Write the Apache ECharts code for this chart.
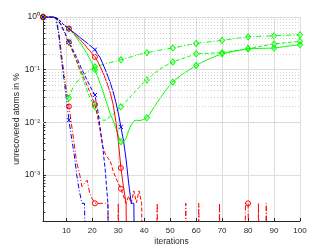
<!DOCTYPE html>
<html><head><meta charset="utf-8">
<script src="https://cdn.jsdelivr.net/npm/echarts@6/dist/echarts.min.js"></script>
<style>html,body{margin:0;padding:0;background:#fff}#c{width:332px;height:249px}</style>
</head><body><div id="c"></div>
<script>
// x ticks and y decade labels
const xTicks = [10, 20, 30, 40, 50, 60, 70, 80, 90, 100];
const yDecades = [1e-3, 1e-2, 1e-1, 1];
const yDecadeLabels = ['10\u207B\u00B3', '10\u207B\u00B2', '10\u207B\u00B9', '10\u2070'];
const markerIters = [1, 11, 21, 31, 41, 51, 60, 70, 80, 90, 100];

// values for iterations 1..100 (0 = nothing left)
const blueSolid = [1,1,1,1,1,0.97,0.9,0.8,0.71,0.65,
 0.6,0.55,0.5,0.46,0.42,0.38,0.35,0.32,0.29,0.265,
 0.24,0.2,0.17,0.13,0.1,0.075,0.055,0.038,0.025,0.015,
 0.0082,0.0045,0.002,0.0007,0.00029,0.00029,0,0,0,0,
 0,0,0,0,0,0,0,0,0,0, 0,0,0,0,0,0,0,0,0,0, 0,0,0,0,0,0,0,0,0,0,
 0,0,0,0,0,0,0,0,0,0, 0,0,0,0,0,0,0,0,0,0, 0,0,0,0,0,0,0,0,0,0];
const redSolid = [1,1,1,1,1,0.97,0.9,0.8,0.71,0.65,
 0.6,0.54,0.48,0.43,0.38,0.34,0.3,0.26,0.23,0.2,
 0.175,0.145,0.115,0.09,0.068,0.05,0.035,0.022,0.011,0.0045,
 0.00136,0.0006,0.00029,0,0,0,0,0,0,0,
 0,0,0,0,0,0,0,0,0,0, 0,0,0,0,0,0,0,0,0,0, 0,0,0,0,0,0,0,0,0,0,
 0,0,0,0,0,0,0,0,0,0, 0,0,0,0,0,0,0,0,0,0, 0,0,0,0,0,0,0,0,0,0];
const greenSolid = [1,1,1,1,1,0.97,0.9,0.8,0.71,0.65,
 0.6,0.53,0.46,0.4,0.34,0.29,0.24,0.2,0.16,0.13,
 0.1,0.075,0.055,0.04,0.028,0.02,0.014,0.011,0.008,0.0055,
 0.0043,0.0042,0.005,0.007,0.009,0.0105,0.011,0.0108,0.011,0.0115,
 0.0122,0.014,0.017,0.02,0.024,0.028,0.033,0.039,0.045,0.052,
 0.058,0.064,0.07,0.077,0.084,0.09,0.097,0.104,0.112,0.12,
 0.128,0.136,0.144,0.152,0.16,0.168,0.176,0.184,0.192,0.2,
 0.205,0.21,0.215,0.22,0.225,0.23,0.235,0.24,0.245,0.25,
 0.251,0.252,0.252,0.253,0.254,0.254,0.255,0.256,0.256,0.257,
 0.261,0.265,0.27,0.274,0.278,0.282,0.286,0.29,0.294,0.297];
const blueDashed = [1,1,1,1,1,0.95,0.85,0.7,0.55,0.43,
 0.34,0.27,0.21,0.17,0.13,0.1,0.08,0.063,0.05,0.04,
 0.033,0.018,0.008,0.0035,0.0012,0.00029,0,0,0,0,
 0,0,0,0,0,0,0,0,0,0, 0,0,0,0,0,0,0,0,0,0, 0,0,0,0,0,0,0,0,0,0,
 0,0,0,0,0,0,0,0,0,0, 0,0,0,0,0,0,0,0,0,0, 0,0,0,0,0,0,0,0,0,0, 0,0,0,0,0,0,0,0,0,0];
const redDashed = [1,1,1,1,1,0.95,0.85,0.7,0.55,0.42,
 0.33,0.25,0.19,0.145,0.11,0.085,0.065,0.05,0.038,0.029,
 0.022,0.013,0.007,0.0035,0.0025,0.0021,0.0018,0.0012,0.0009,0.0007,
 0.00055,0.0004,0.00029,0.0004,0.00029,0.0005,0.0003,0.0005,0.00029,0,
 0,0,0,0,0,0,0,0,0,0, 0,0,0,0,0,0,0,0,0,0, 0,0,0,0,0,0,0,0,0,0,
 0,0,0,0,0,0,0,0,0,0, 0,0,0,0,0,0,0,0,0,0, 0,0,0,0,0,0,0,0,0,0];
const greenDashed = [1,1,1,1,1,0.95,0.85,0.7,0.55,0.42,
 0.33,0.25,0.19,0.14,0.1,0.075,0.055,0.04,0.03,0.024,
 0.02,0.014,0.012,0.011,0.011,0.012,0.013,0.014,0.016,0.018,
 0.0197,0.022,0.025,0.028,0.032,0.036,0.041,0.046,0.052,0.058,
 0.064,0.071,0.078,0.086,0.094,0.102,0.11,0.118,0.125,0.133,
 0.14,0.146,0.152,0.158,0.164,0.17,0.177,0.184,0.192,0.2,
 0.201,0.202,0.203,0.204,0.205,0.206,0.207,0.208,0.209,0.21,
 0.214,0.218,0.222,0.226,0.23,0.234,0.238,0.242,0.246,0.25,
 0.255,0.26,0.266,0.272,0.278,0.284,0.29,0.296,0.302,0.307,
 0.311,0.315,0.319,0.323,0.327,0.331,0.335,0.338,0.341,0.344];
const blueDashDot = [1,1,1,1,1,0.95,0.5,0.17,0.07,0.028,
 0.011,0.005,0.0025,0.001,0.0005,0.00029,0.00029,0,0,0,
 0,0,0,0,0,0,0,0,0,0, 0,0,0,0,0,0,0,0,0,0, 0,0,0,0,0,0,0,0,0,0, 0,0,0,0,0,0,0,0,0,0,
 0,0,0,0,0,0,0,0,0,0, 0,0,0,0,0,0,0,0,0,0, 0,0,0,0,0,0,0,0,0,0, 0,0,0,0,0,0,0,0,0,0];
const redDashDot = [1,1,1,1,1,0.95,0.55,0.22,0.09,0.04,
 0.02,0.009,0.004,0.0017,0.0011,0.0006,0.0007,0.0008,0.00045,0.00035,
 0.00029,0.00029,0.00029,0.00029,0.00029,0.00029,0,0,0,0.00029,
 0,0,0,0,0,0,0,0,0,0, 0,0,0,0,0.00029,0,0,0,0,0,
 0,0,0,0,0,0.00029,0,0,0,0, 0.00029,0,0,0,0,0,0,0,0.00029,0,
 0,0,0,0,0,0,0,0,0.00029,0.00029, 0,0,0,0.00029,0,0,0.00029,0,0,0,
 0,0,0,0,0,0,0,0,0,0];
const greenDashDot = [1,1,1,1,1,0.9,0.5,0.2,0.08,0.04,
 0.029,0.04,0.05,0.058,0.066,0.074,0.082,0.09,0.098,0.105,
 0.113,0.117,0.121,0.125,0.129,0.133,0.137,0.141,0.145,0.15,
 0.154,0.159,0.164,0.17,0.176,0.182,0.188,0.194,0.2,0.205,
 0.21,0.215,0.22,0.225,0.23,0.235,0.24,0.245,0.25,0.254,
 0.257,0.263,0.27,0.276,0.283,0.289,0.296,0.302,0.309,0.315,
 0.319,0.323,0.328,0.332,0.337,0.341,0.346,0.35,0.355,0.36,
 0.366,0.372,0.378,0.384,0.39,0.396,0.402,0.408,0.414,0.42,
 0.422,0.424,0.426,0.428,0.43,0.432,0.434,0.436,0.438,0.44,
 0.442,0.444,0.446,0.448,0.45,0.452,0.454,0.456,0.458,0.46];

const yMinorLevels = [];
[1e-4, 1e-3, 1e-2, 1e-1].forEach(d => { for (let k = 2; k <= 9; k++) yMinorLevels.push(+(k * d).toPrecision(3)); });

const BLUE = '#0000ff', RED = '#ff0000', GREEN = '#00ff00';
const FLOOR = 1e-8;
const X_PATH = 'path://M0,0L10,10M10,0L0,10';

function mk(name, vals, color, dash, symbol, size) {
  return {
    name, type: 'line', data: vals.map((v, i) => [i + 1, v > 0 ? v : FLOOR]),
    showSymbol: true, showAllSymbol: true,
    symbol: (val, p) => markerIters.includes(p.dataIndex + 1) ? symbol : 'none',
    symbolSize: size, clip: true, animation: false,
    lineStyle: { color, width: 1, type: dash },
    itemStyle: { color: 'rgba(255,255,255,0)', borderColor: color, borderWidth: 1 },
    emphasis: { disabled: true }, z: 3
  };
}

const dashed = [4, 2], dashDot = [5, 2, 1, 2];
const series = [
  mk('gdd', greenDashDot, GREEN, dashDot, 'diamond', [5, 6]),
  mk('gd', greenDashed, GREEN, dashed, 'diamond', [5, 6]),
  mk('gs', greenSolid, GREEN, 'solid', 'diamond', [5, 6]),
  mk('rdd', redDashDot, RED, dashDot, 'circle', 5),
  mk('rd', redDashed, RED, dashed, 'circle', 5),
  mk('rs', redSolid, RED, 'solid', 'circle', 5),
  mk('bdd', blueDashDot, BLUE, dashDot, X_PATH, 4),
  mk('bd', blueDashed, BLUE, dashed, X_PATH, 4),
  mk('bs', blueSolid, BLUE, 'solid', X_PATH, 4),
  {
    type: 'line', data: [], z: 1, silent: true,
    markLine: {
      silent: true, symbol: 'none', animation: false, label: { show: false },
      lineStyle: { color: '#cfcfcf', type: [1, 2], width: 1 },
      data: yMinorLevels.map(v => ({ yAxis: v }))
    }
  },
  {
    type: 'line', data: [], z: 4, silent: true,
    markLine: {
      silent: true, symbol: 'none', animation: false, label: { show: false },
      lineStyle: { color: '#262626', type: 'solid', width: 1 },
      data: yMinorLevels.map(v => [{ coord: [1, v] }, { coord: [1.9, v] }])
    }
  }
];

const chart = echarts.init(document.getElementById('c'), null, { renderer: 'canvas' });
chart.setOption({
  animation: false,
  backgroundColor: '#fff',
  textStyle: { fontFamily: 'Liberation Sans, Arial, sans-serif' },
  grid: { left: 43, right: 32, top: 17, bottom: 28, containLabel: false, outerBoundsMode: 'none' },
  xAxis: {
    type: 'value', min: 1, max: 100,
    name: 'iterations', nameLocation: 'middle', nameGap: 16, nameMoveOverlap: false,
    nameTextStyle: { fontSize: 8.5, color: '#262626' },
    axisLine: { show: true, lineStyle: { color: '#262626', width: 1 } },
    axisTick: { show: true, inside: true, length: 3, customValues: xTicks, lineStyle: { color: '#262626' } },
    axisLabel: { customValues: xTicks, fontSize: 8, color: '#262626', margin: 6 },
    splitLine: { show: true, lineStyle: { color: '#dedede', width: 1 } }
  },
  yAxis: {
    type: 'log', logBase: 10, min: 1.34e-4, max: 1,
    name: 'unrecovered atoms in %', nameLocation: 'middle', nameGap: 22, nameMoveOverlap: false,
    nameTextStyle: { fontSize: 8.5, color: '#262626' },
    axisLine: { show: true, lineStyle: { color: '#262626', width: 1 } },
    axisTick: { show: true, inside: true, length: 3, lineStyle: { color: '#262626' } },
    axisLabel: {
      fontSize: 8.5, color: '#262626', margin: 3,
      formatter: v => {
        const i = yDecades.findIndex(d => Math.abs(Math.log10(v) - Math.log10(d)) < 1e-6);
        return i >= 0 ? yDecadeLabels[i] : '';
      }
    },
    splitLine: { show: true, lineStyle: { color: '#dedede', width: 1 } }
  },
  series
});
</script>
</body></html>
